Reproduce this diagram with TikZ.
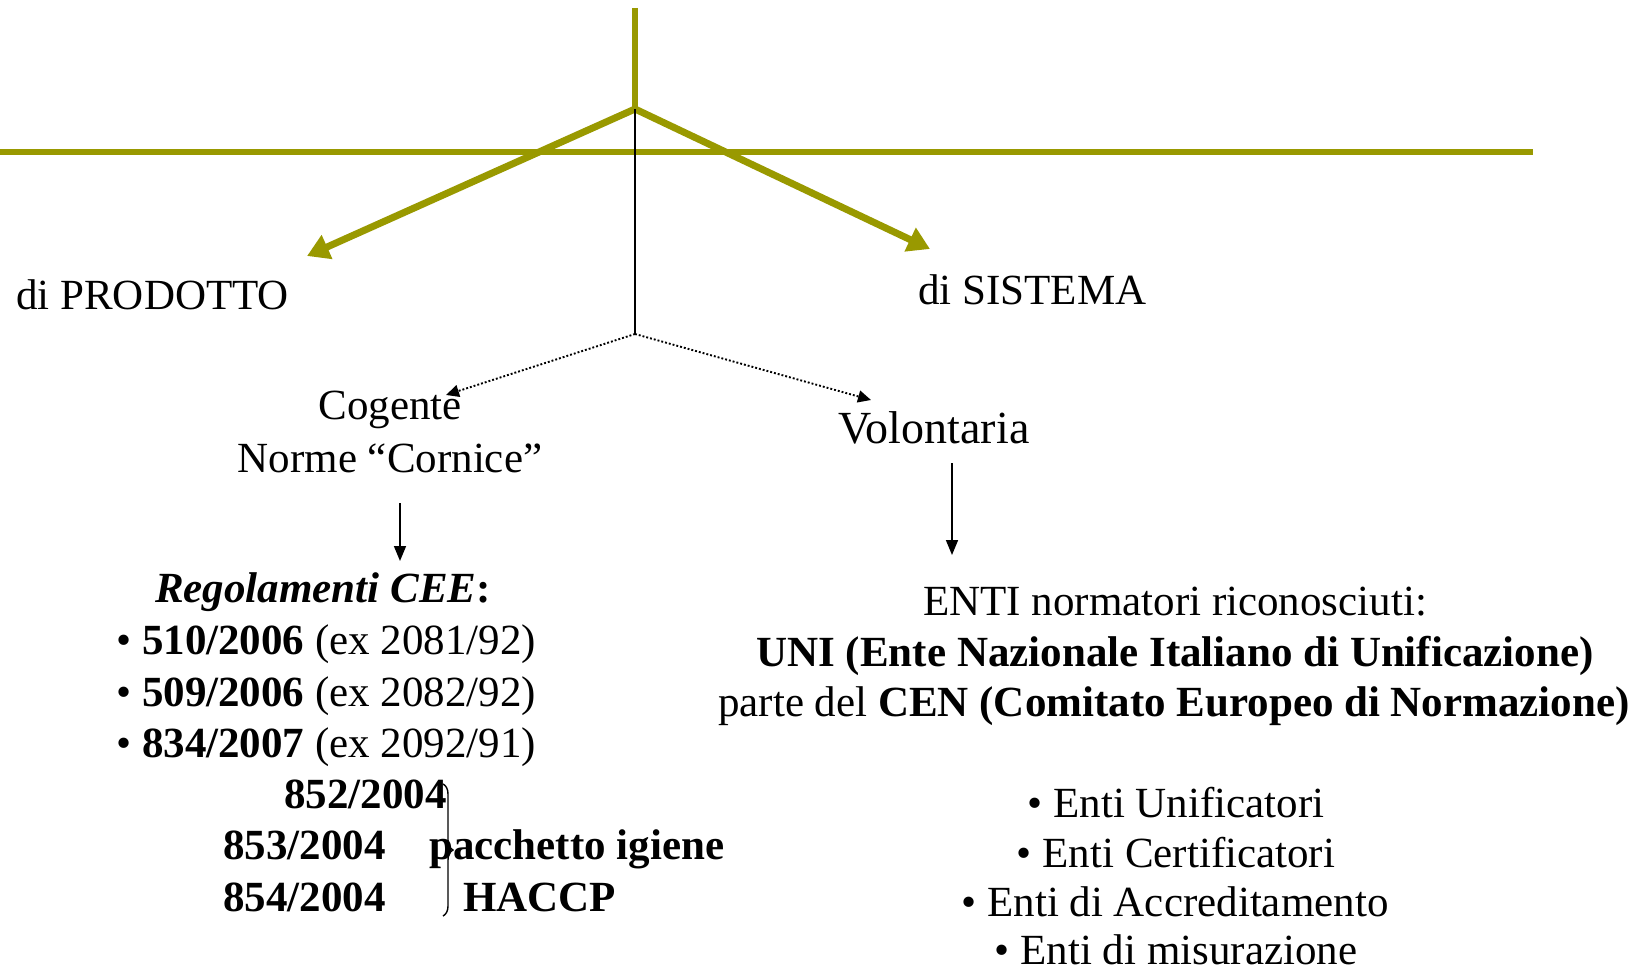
\documentclass[tikz,border=0pt]{standalone}
\usepackage{fontspec}
\setmainfont{Liberation Serif}
\usetikzlibrary{arrows.meta,decorations.pathreplacing}
\definecolor{brancholive}{RGB}{153,153,0}
\begin{document}
\begin{tikzpicture}[x=1pt,y=-1pt,
  txt/.style={inner sep=0pt, font=\fontsize{43}{50}\selectfont},
  bigtxt/.style={inner sep=0pt, font=\fontsize{46}{54}\selectfont},
  oliveline/.style={draw=brancholive, line width=6pt},
  olivearrow/.style={draw=brancholive, line width=7pt,
    -{Triangle[length=22pt,width=25pt]}},
  thinline/.style={draw=black, line width=1.6pt},
  dotarrow/.style={draw=black, line width=1.9pt, dotted,
    -{Triangle[length=13pt,width=12pt]}},
  downarrow/.style={draw=black, line width=1.6pt,
    -{Triangle[length=15pt,width=12pt]}},
  bracestyle/.style={draw=black, line width=1.4pt, decorate,
    decoration={brace, amplitude=10pt}}]
\useasboundingbox (0,0) rectangle (1649,974);

% branching skeleton
\coordinate (top) at (635,8);
\coordinate (fork) at (635,109);
\coordinate (hleft) at (0,152);
\coordinate (hright) at (1533,152);
\coordinate (split) at (635,334);
\coordinate (prodtip) at (307,256);
\coordinate (sisttip) at (930,249);

\draw[oliveline] (hleft) -- (hright);
\draw[oliveline] (top) -- (fork);
\draw[olivearrow] (fork) -- (prodtip);
\draw[olivearrow] (fork) -- (sisttip);
\draw[thinline] (fork) -- (split);

% top-level labels
\node[txt, anchor=base west] (prod) at (16,309) {di PRODOTTO};
\node[txt, anchor=base west] (sist) at (918,304) {di SISTEMA};

% second level
\node[txt, anchor=base] (cog) at (390,419) {Cogente};
\node[txt, anchor=base] (cornice) at (390,472) {Norme “Cornice”};
\node[bigtxt, anchor=base] (vol) at (934,443) {Volontaria};

\coordinate (cogtip) at (446,395);
\coordinate (voltip) at (871,400);
\draw[dotarrow] (split) -- (cogtip);
\draw[dotarrow] (split) -- (voltip);

% left column: regulations
\coordinate (ca) at (400,503);
\coordinate (cb) at (400,561);
\draw[downarrow] (ca) -- (cb);

\node[txt, anchor=base] (reg) at (323,602) {\textbf{\textit{Regolamenti CEE}}\textbf{:}};
\node[txt, anchor=base west] (r1) at (116,654) {• \textbf{510/2006} (ex 2081/92)};
\node[txt, anchor=base west] (r2) at (116,706) {• \textbf{509/2006} (ex 2082/92)};
\node[txt, anchor=base west] (r3) at (116,757) {• \textbf{834/2007} (ex 2092/91)};
\node[txt, anchor=base west] (h1) at (284,808) {\textbf{852/2004}};
\node[txt, anchor=base west] (h2) at (223,859) {\textbf{853/2004}};
\node[txt, anchor=base west] (h3) at (223,911) {\textbf{854/2004}};
\node[txt, anchor=base west] (pack) at (429,859) {\textbf{pacchetto igiene}};
\node[txt, anchor=base west] (haccp) at (463,911) {\textbf{HACCP}};

\coordinate (bra) at (443,784);
\coordinate (brb) at (443,916);
\draw[bracestyle] (bra) -- (brb);

% right column: standards bodies
\coordinate (va) at (952,463);
\coordinate (vb) at (952,555);
\draw[downarrow] (va) -- (vb);

\node[txt, anchor=base] (enti) at (1175,615) {ENTI normatori riconosciuti:};
\node[txt, anchor=base] (uni) at (1175,666) {\textbf{UNI (Ente Nazionale Italiano di Unificazione)}};
\node[txt, anchor=base] (cen) at (1174,716) {parte del \textbf{CEN (Comitato Europeo di Normazione)}};

\node[txt, anchor=base] (e1) at (1176,817) {• Enti Unificatori};
\node[txt, anchor=base] (e2) at (1176,867) {• Enti Certificatori};
\node[txt, anchor=base] (e3) at (1175,916) {• Enti di Accreditamento};
\node[txt, anchor=base] (e4) at (1176,964) {• Enti di misurazione};
\end{tikzpicture}
\end{document}
